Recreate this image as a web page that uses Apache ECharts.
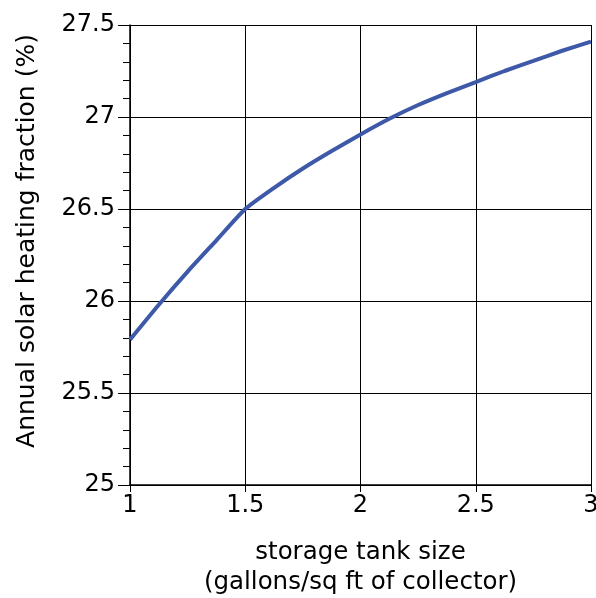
<!DOCTYPE html>
<html>
<head>
<meta charset="utf-8">
<script src="https://cdn.jsdelivr.net/npm/echarts@6/dist/echarts.min.js"></script>
<style>
html,body{margin:0;padding:0;background:#fff;}
#chart{width:596px;height:598px;}
</style>
</head>
<body>
<div id="chart"></div>
<script>
var tankSize = [1, 1.125, 1.25, 1.375, 1.5, 1.625, 1.75, 1.875, 2, 2.125, 2.25, 2.375, 2.5, 2.625, 2.75, 2.875, 3];
var heatingFraction = [25.79, 25.98, 26.16, 26.33, 26.5, 26.615, 26.72, 26.815, 26.905, 26.99, 27.065, 27.13, 27.19, 27.25, 27.305, 27.36, 27.41];
var xTitle = 'storage tank size\n(gallons/sq ft of collector)';
var yTitle = 'Annual solar heating fraction (%)';

var pts = tankSize.map(function (x, i) { return [x, heatingFraction[i]]; });
var font = 'DejaVu Sans';
var chart = echarts.init(document.getElementById('chart'));
chart.setOption({
  animation: false,
  grid: { left: 130, right: 5, top: 25, bottom: 113, outerBoundsMode: 'none', containLabel: false },
  xAxis: {
    type: 'value', min: 1, max: 3, interval: 0.5,
    name: xTitle, nameLocation: 'middle', nameGap: 53,
    nameTextStyle: { fontFamily: font, fontSize: 24.5, color: '#000', lineHeight: 30 },
    axisLine: { show: true, onZero: false, lineStyle: { color: '#000', width: 1.5 } },
    axisTick: { show: true, length: 7, lineStyle: { color: '#000' } },
    axisLabel: { fontFamily: font, fontSize: 24, color: '#000', margin: 9,
      formatter: function (v) { return String(v); } },
    splitLine: { show: true, lineStyle: { color: '#000', width: 1 } }
  },
  yAxis: {
    type: 'value', min: 25, max: 27.5, interval: 0.5,
    name: yTitle, nameLocation: 'middle', nameGap: 90,
    nameTextStyle: { fontFamily: font, fontSize: 25, color: '#000', padding: [0, 0, 0, 28] },
    axisLine: { show: true, lineStyle: { color: '#000', width: 1.5 } },
    axisTick: { show: true, length: 12, lineStyle: { color: '#000' } },
    minorTick: { show: true, splitNumber: 5, length: 7, lineStyle: { color: '#000' } },
    axisLabel: { fontFamily: font, fontSize: 24, color: '#000', margin: 15,
      formatter: function (v) { return String(v); } },
    splitLine: { show: true, lineStyle: { color: '#000', width: 1 } }
  },
  series: [{
    type: 'line',
    data: pts,
    smooth: 0.2,
    showSymbol: false,
    lineStyle: { color: '#3d59a8', width: 4 }
  }]
});
</script>
</body>
</html>
